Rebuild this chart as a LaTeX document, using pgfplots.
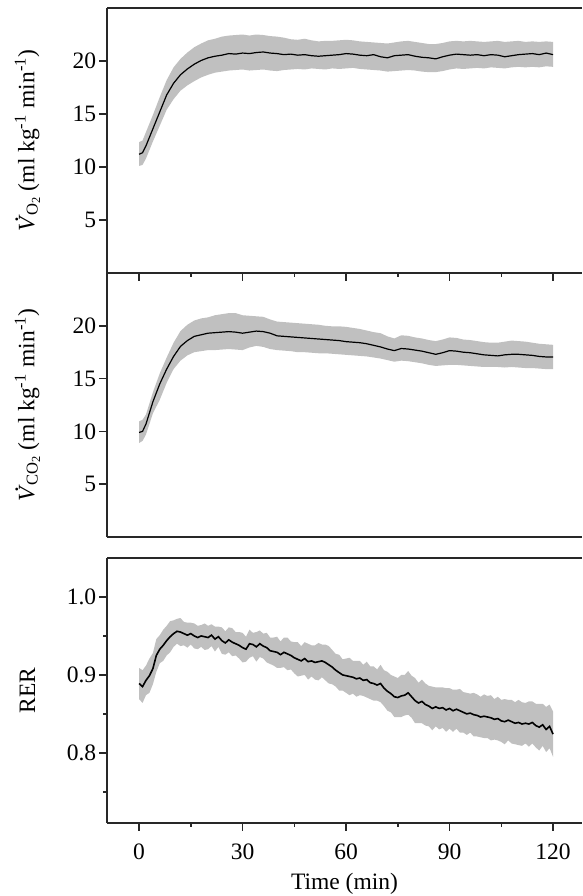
\documentclass[border=0pt]{standalone}
\usepackage{fontspec}
\setmainfont{Liberation Serif}
\usepackage{pgfplots}
\usepackage{pgfplotstable}
\pgfplotsset{compat=1.18}
\usepgfplotslibrary{fillbetween}

\definecolor{band}{RGB}{192,192,192}
\definecolor{axline}{RGB}{40,40,40}

\newcommand{\Vdot}{\textit{V}\llap{\raisebox{0.7em}{.}\kern0.06em}}
\newcommand{\sub}[1]{\raisebox{-0.3ex}{\fontsize{8.3}{9}\selectfont #1}}
\newcommand{\subsub}[1]{\raisebox{-0.35ex}{\fontsize{6.2}{7}\selectfont #1}}
\newcommand{\unitlab}{(ml kg\textsuperscript{-1} min\textsuperscript{-1})}

% VO2: time, mean, lower and upper edge of the band
\pgfplotstableread{
t m lo hi
0 11.2 10.1 12.35
1 11.35 10.2 12.5
2 12.0 10.8 13.3
4 13.6 12.4 14.9
6 15.2 13.9 16.6
8 16.8 15.4 18.2
10 17.9 16.4 19.4
12 18.7 17.2 20.2
14 19.25 17.7 20.8
16 19.7 18.1 21.3
18 20.05 18.45 21.65
20 20.3 18.7 21.95
22 20.45 18.9 22.1
24 20.55 19.0 22.3
26 20.7 19.1 22.4
28 20.65 19.15 22.45
30 20.75 19.2 22.5
32 20.7 19.1 22.4
34 20.8 19.15 22.5
36 20.85 19.2 22.45
38 20.75 19.1 22.35
40 20.7 19.05 22.3
42 20.6 19.15 22.2
44 20.65 19.2 22.05
46 20.55 19.25 22.0
48 20.6 19.2 22.1
50 20.5 19.3 21.95
52 20.45 19.25 21.85
54 20.5 19.2 21.9
56 20.55 19.3 21.9
58 20.6 19.25 21.95
60 20.7 19.3 22.0
62 20.65 19.35 21.95
64 20.55 19.25 21.85
66 20.5 19.2 21.8
68 20.6 19.15 21.75
70 20.4 19.1 21.7
72 20.3 19.0 21.65
74 20.5 19.05 21.75
76 20.55 19.1 21.85
78 20.6 19.15 21.9
80 20.45 19.1 21.8
82 20.35 19.0 21.7
84 20.3 18.95 21.6
86 20.2 18.95 21.6
88 20.4 19.05 21.7
90 20.55 19.2 21.85
92 20.65 19.3 21.9
94 20.6 19.25 21.85
96 20.55 19.3 21.9
98 20.6 19.35 21.85
100 20.5 19.3 21.8
102 20.6 19.4 21.85
104 20.55 19.35 21.9
106 20.4 19.3 21.8
108 20.5 19.4 21.85
110 20.6 19.45 21.9
112 20.65 19.4 21.8
114 20.7 19.45 21.85
116 20.6 19.4 21.8
118 20.75 19.5 21.85
120 20.6 19.45 21.8
}\vo

% VCO2
\pgfplotstableread{
t m lo hi
0 9.9 8.9 10.95
1 10.0 9.1 11.1
2 10.7 9.7 11.6
4 12.8 11.7 13.7
6 14.5 13.0 15.5
8 15.9 14.6 17.0
10 17.1 15.9 18.4
12 18.05 16.7 19.5
14 18.6 17.2 20.1
16 19.0 17.5 20.5
18 19.15 17.6 20.7
20 19.3 17.7 20.8
22 19.35 17.7 21.0
24 19.4 17.75 21.1
26 19.45 17.8 21.2
28 19.4 17.75 21.2
30 19.3 17.7 21.0
32 19.4 17.95 20.95
34 19.5 18.1 20.9
36 19.45 18.0 20.85
38 19.3 17.8 20.6
40 19.05 17.7 20.4
42 19.0 17.65 20.35
44 18.95 17.6 20.3
46 18.9 17.5 20.25
48 18.85 17.5 20.2
50 18.8 17.45 20.15
52 18.75 17.4 20.1
54 18.7 17.4 20.0
56 18.65 17.35 19.95
58 18.6 17.3 19.95
60 18.5 17.25 19.9
62 18.45 17.2 19.8
64 18.4 17.15 19.7
66 18.3 17.1 19.55
68 18.15 17.0 19.4
70 18.0 16.9 19.3
72 17.8 16.75 19.0
74 17.65 16.6 18.8
76 17.85 16.7 19.1
78 17.8 16.65 19.05
80 17.7 16.55 18.9
82 17.6 16.45 18.8
84 17.45 16.3 18.65
86 17.3 16.2 18.55
88 17.45 16.25 18.7
90 17.65 16.3 18.9
92 17.6 16.3 18.85
94 17.5 16.25 18.7
96 17.45 16.2 18.65
98 17.35 16.15 18.55
100 17.25 16.1 18.45
102 17.2 16.1 18.4
104 17.15 16.1 18.4
106 17.25 16.05 18.5
108 17.3 16.1 18.6
110 17.3 16.05 18.55
112 17.25 16.0 18.5
114 17.2 16.0 18.4
116 17.1 15.95 18.3
118 17.05 15.9 18.25
120 17.05 15.9 18.2
}\vco

% RER: time, mean, SD
\pgfplotstableread{
t m s
0 0.889 0.020
1 0.885 0.021
2 0.893 0.019
3 0.899 0.022
4 0.908 0.020
5 0.925 0.021
6 0.933 0.018
7 0.938 0.020
8 0.944 0.019
9 0.949 0.020
10 0.953 0.017
11 0.956 0.016
12 0.955 0.018
13 0.953 0.015
14 0.951 0.016
15 0.953 0.014
16 0.950 0.016
17 0.948 0.015
18 0.950 0.014
19 0.949 0.017
20 0.948 0.015
21 0.951 0.014
22 0.946 0.016
23 0.949 0.013
24 0.944 0.017
25 0.941 0.015
26 0.945 0.016
27 0.942 0.018
28 0.940 0.015
29 0.938 0.017
30 0.935 0.019
31 0.933 0.016
32 0.940 0.018
33 0.939 0.015
34 0.936 0.019
35 0.940 0.017
36 0.937 0.016
37 0.935 0.019
38 0.931 0.017
39 0.930 0.018
40 0.929 0.020
41 0.926 0.017
42 0.929 0.019
43 0.927 0.021
44 0.925 0.018
45 0.922 0.020
46 0.920 0.022
47 0.918 0.019
48 0.921 0.021
49 0.917 0.023
50 0.918 0.020
51 0.916 0.022
52 0.917 0.024
53 0.918 0.021
54 0.916 0.023
55 0.913 0.024
56 0.910 0.022
57 0.906 0.021
58 0.903 0.023
59 0.900 0.020
60 0.899 0.022
61 0.898 0.024
62 0.897 0.021
63 0.895 0.023
64 0.896 0.022
65 0.893 0.020
66 0.894 0.023
67 0.890 0.021
68 0.889 0.022
69 0.887 0.020
70 0.889 0.024
71 0.883 0.023
72 0.879 0.025
73 0.876 0.024
74 0.872 0.026
75 0.871 0.025
76 0.873 0.027
77 0.874 0.026
78 0.877 0.028
79 0.872 0.027
80 0.867 0.029
81 0.864 0.026
82 0.866 0.028
83 0.862 0.027
84 0.860 0.026
85 0.857 0.028
86 0.859 0.025
87 0.857 0.027
88 0.858 0.026
89 0.855 0.028
90 0.857 0.026
91 0.854 0.027
92 0.856 0.025
93 0.854 0.028
94 0.852 0.026
95 0.850 0.027
96 0.851 0.025
97 0.849 0.028
98 0.848 0.027
99 0.846 0.026
100 0.847 0.028
101 0.846 0.027
102 0.845 0.029
103 0.843 0.026
104 0.844 0.028
105 0.841 0.027
106 0.840 0.029
107 0.842 0.026
108 0.840 0.028
109 0.838 0.027
110 0.839 0.029
111 0.837 0.028
112 0.838 0.026
113 0.837 0.029
114 0.839 0.027
115 0.835 0.028
116 0.833 0.030
117 0.836 0.027
118 0.830 0.029
119 0.834 0.028
120 0.824 0.029
}\rer

\pgfplotsset{
  /pgf/number format/assume math mode=true,
  panel/.style={
    scale only axis, width=237.5bp, height=132.5bp,
    xmin=-9.3, xmax=128.4, clip=false,
    axis x line*=bottom, axis y line*=left,
    axis line style={-, draw=axline, line width=0.75bp},
    every tick/.style={axline, line width=0.75bp},
    tick align=outside,
    major tick length=3.8bp, minor tick length=1.9bp,
    yticklabel style={xshift=2.5bp},
    xticklabel style={yshift=-2.5bp},
    ylabel style={at={(rel axis cs:-0.1674,0.5)}, anchor=center, inner sep=0pt},
  },
}

\begin{document}
\fontsize{11.8}{14}\selectfont
\begin{tikzpicture}

% VO2
\begin{axis}[panel, at={(53.5bp,-4bp)}, anchor=north west,
    ymin=0, ymax=25, ytick={5,10,15,20},
    xtick={0,30,...,120}, minor xtick={15,45,75,105}, xticklabels={},
    ylabel={\Vdot\sub{O\subsub{2}} \unitlab}]
\addplot[draw=none, name path=hi] table[x=t, y=hi] {\vo};
\addplot[draw=none, name path=lo] table[x=t, y=lo] {\vo};
\addplot[band, draw=none] fill between[of=hi and lo];
\addplot[black, line width=0.6bp] table[x=t, y=m] {\vo};
\draw[axline, line width=0.75bp] (rel axis cs:0,1) -- (rel axis cs:1,1);
\end{axis}

% VCO2
\begin{axis}[panel, at={(53.5bp,-136.5bp)}, anchor=north west, height=132bp,
    ymin=0, ymax=25, ytick={5,10,15,20}, xtick=\empty,
    ylabel={\Vdot\sub{CO\subsub{2}} \unitlab}]
\addplot[draw=none, name path=hi] table[x=t, y=hi] {\vco};
\addplot[draw=none, name path=lo] table[x=t, y=lo] {\vco};
\addplot[band, draw=none] fill between[of=hi and lo];
\addplot[black, line width=0.6bp] table[x=t, y=m] {\vco};
\end{axis}

% RER
\begin{axis}[panel, at={(53.5bp,-279bp)}, anchor=north west,
    ymin=0.71, ymax=1.05, ytick={0.8,0.9,1.0}, minor ytick={0.75,0.85,0.95},
    yticklabel style={/pgf/number format/.cd, fixed, fixed zerofill, precision=1},
    xtick={0,30,...,120}, minor xtick={15,45,75,105},
    xlabel={Time (min)},
    xlabel style={at={(rel axis cs:0.5,0)}, yshift=-30.5bp, anchor=center, inner sep=0pt},
    ylabel={RER}]
\addplot[draw=none, name path=hi] table[x=t, y expr=\thisrow{m}+\thisrow{s}] {\rer};
\addplot[draw=none, name path=lo] table[x=t, y expr=\thisrow{m}-\thisrow{s}] {\rer};
\addplot[band, draw=none] fill between[of=hi and lo];
\addplot[black, line width=0.8bp] table[x=t, y=m] {\rer};
\draw[axline, line width=0.75bp] (rel axis cs:0,1) -- (rel axis cs:1,1);
\end{axis}

\path (0,0) rectangle (291bp,-448bp);
\end{tikzpicture}
\end{document}
